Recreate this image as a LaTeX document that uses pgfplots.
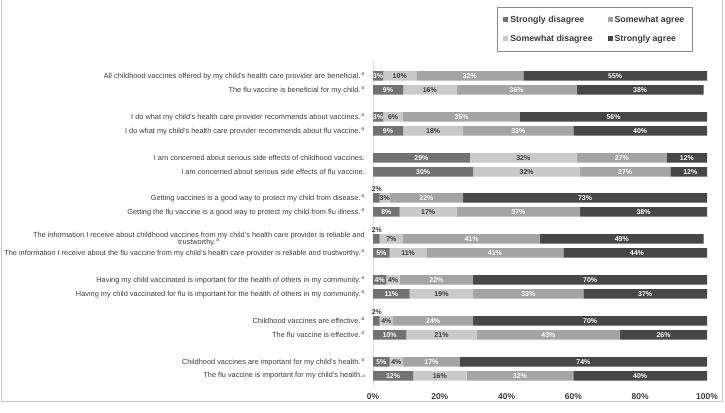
\documentclass[border=0pt]{standalone}
\usepackage{fontspec}
\setmainfont{Liberation Sans}
\usepackage{pgfplots}
\usepackage{pgfplotstable}
\pgfplotsset{compat=1.18}

\definecolor{sdcol}{HTML}{727272}
\definecolor{swdcol}{HTML}{C9C9C9}
\definecolor{swacol}{HTML}{A4A4A4}
\definecolor{sacol}{HTML}{474747}
\definecolor{txt}{HTML}{3A3A3A}

% y = row position (pixels from top, negated); shares in percent
\pgfplotstableread{
y    sd swd swa sa
-76   3 10 32 55
-90   9 16 36 38
-117  3  6 35 56
-131  9 18 33 40
-158 29 32 27 12
-172 30 32 27 12
-198  2  3 22 73
-212  8 17 37 38
-239  2  7 41 49
-253  5 11 41 44
-280  4  4 22 70
-294 11 19 33 37
-321  2  4 24 70
-335 10 21 43 26
-362  5  4 17 74
-376 12 16 32 40
}\survey

% label positions = middle of each segment
\pgfplotstablecreatecol[create col/expr={\thisrow{sd}/2}]{msd}{\survey}
\pgfplotstablecreatecol[create col/expr={\thisrow{sd}+\thisrow{swd}/2}]{mswd}{\survey}
\pgfplotstablecreatecol[create col/expr={\thisrow{sd}+\thisrow{swd}+\thisrow{swa}/2}]{mswa}{\survey}
\pgfplotstablecreatecol[create col/expr={\thisrow{sd}+\thisrow{swd}+\thisrow{swa}+\thisrow{sa}/2}]{msa}{\survey}

\newcommand{\sa}{\textsuperscript{\,a}}

\pgfplotsset{
  base/.style={
    scale only axis, width=334bp, height=326bp,
    xmin=0, xmax=100, ymin=-386, ymax=-60,
    at={(373bp,27bp)}, anchor=south west,
  },
  lab/.style={
    draw=none, mark=none, nodes near coords, point meta=explicit,
    nodes near coords={\pgfmathprintnumber[assume math mode=true]{\pgfplotspointmeta}\%},
    every node near coord/.append style={anchor=center, inner sep=0pt,
      font=\bfseries\fontsize{7}{8}\selectfont, text=#1},
  },
}

\begin{document}
\begin{tikzpicture}
\useasboundingbox (0,0) rectangle (725bp,413bp);
\draw[black!22, line width=0.8bp] (1.5bp,413bp) -- (1.5bp,12bp) -- (722bp,12bp) -- (722bp,413bp);

\begin{axis}[base,
  xbar stacked, bar width=9.5,
  axis lines*=left,
  x axis line style={draw=none},
  y axis line style={draw=black!12},
  major tick length=0pt,
  xtick={0,20,40,60,80,100},
  xticklabels={0\%,20\%,40\%,60\%,80\%,100\%},
  xticklabel style={font=\bfseries\fontsize{8.5}{10}\selectfont, text=txt, yshift=-4bp},
  ytick={-76,-90,-117,-131,-158,-172,-198,-212,-239,-253,-280,-294,-321,-335,-362,-376},
  yticklabels={
    {All childhood vaccines offered by my child's health care provider are beneficial.\sa},
    {The flu vaccine is beneficial for my child.\sa},
    {I do what my child's health care provider recommends about vaccines.\sa},
    {I do what my child's health care provider recommends about flu vaccine.\sa},
    {I am concerned about serious side effects of childhood vaccines.},
    {I am concerned about serious side effects of flu vaccine.},
    {Getting vaccines is a good way to protect my child from disease.\sa},
    {Getting the flu vaccine is a good way to protect my child from flu illness.\sa},
    {\begin{tabular}{@{}c@{}}The information I receive about childhood vaccines from my child's health care provider is reliable and\\[-1.5pt] trustworthy.\sa\end{tabular}},
    {The information I receive about the flu vaccine from my child's health care provider is reliable and trustworthy.\sa},
    {Having my child vaccinated is important for the health of others in my community.\sa},
    {Having my child vaccinated for flu is important for the health of others in my community.\sa},
    {Childhood vaccines are effective.\sa},
    {The flu vaccine is effective.\sa},
    {Childhood vaccines are important for my child's health.\sa},
    {The flu vaccine is important for my child's health.{\fontsize{4.5}{5}\selectfont a}}},
  yticklabel style={font=\fontsize{7.4}{8.6}\selectfont, text=txt, inner sep=0pt, xshift=-8bp},
  legend style={at={(axis description cs:0.371,1.1626)}, anchor=north west,
    draw=black!45, line width=0.8bp, inner xsep=6bp, inner ysep=6.5bp,
    font=\bfseries\fontsize{8.8}{10}\selectfont, text=txt, row sep=7bp,
    /tikz/every even column/.append style={column sep=13bp}},
  legend cell align=left,
  legend columns=2, transpose legend,
  legend image code/.code={\fill[#1] (0bp,-2.5bp) rectangle (5bp,2.5bp);},
]
\addplot[fill=sdcol, draw=none] table[x=sd, y=y]{\survey};
\addplot[fill=swdcol, draw=none] table[x=swd, y=y]{\survey};
\addplot[fill=swacol, draw=none] table[x=swa, y=y]{\survey};
\addplot[fill=sacol, draw=none] table[x=sa, y=y]{\survey};
\legend{Strongly disagree, Somewhat disagree, Somewhat agree, Strongly agree}
\end{axis}

\begin{axis}[base, axis lines=none]
\addplot[lab=white, restrict expr to domain={\thisrow{sd}}{2.5:100}] table[x=msd, y=y, meta=sd]{\survey};
\addplot[lab=txt, restrict expr to domain={\thisrow{sd}}{0:2.5},
  every node near coord/.append style={yshift=9bp, xshift=0.5bp}] table[x=msd, y=y, meta=sd]{\survey};
\addplot[lab=txt] table[x=mswd, y=y, meta=swd]{\survey};
\addplot[lab=white] table[x=mswa, y=y, meta=swa]{\survey};
\addplot[lab=white] table[x=msa, y=y, meta=sa]{\survey};
\end{axis}
\end{tikzpicture}
\end{document}
